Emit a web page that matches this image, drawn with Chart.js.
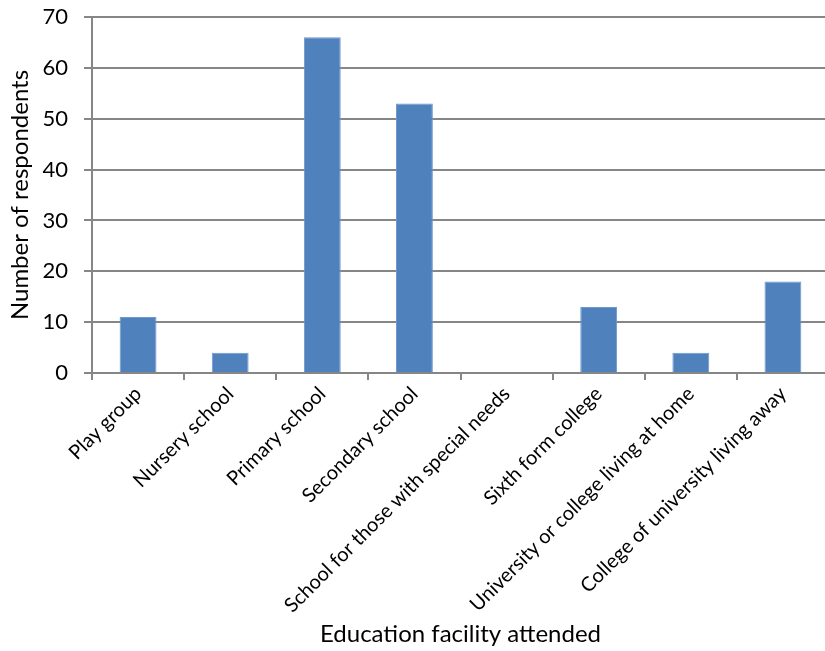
<!DOCTYPE html>
<html>
<head>
<meta charset="utf-8">
<script src="https://cdn.jsdelivr.net/npm/chart.js@4"></script>
<style>
  body { margin: 0; background: #fff; overflow: hidden; }
  #wrap { width: 829px; height: 651px; position: relative; }
</style>
</head>
<body>
<div id="wrap"><canvas id="main"></canvas></div>
<script>
const categories = [
    "Play group",
    "Nursery school",
    "Primary school",
    "Secondary school",
    "School for those with special needs",
    "Sixth form college",
    "University or college living at home",
    "College of university living away"
];
const respondents = [11, 4, 66, 53, 0, 13, 4, 18];

const gridGrey = "#868686";
const font = "Lato, 'Liberation Sans', sans-serif";

const myChart = new Chart(document.getElementById('main'), {
    type: "bar",
    data: {
        labels: categories,
        datasets: [{
            label: "Respondents",
            data: respondents,
            backgroundColor: "#4F81BD",
            borderColor: "#6E97CB",
            borderWidth: 1,
            categoryPercentage: 1,
            barPercentage: 0.4
        }]
    },
    options: {
        responsive: true,
        maintainAspectRatio: false,
        animation: false,
        layout: { padding: { top: 17, left: 0, right: 0, bottom: 0 } },
        plugins: {
            legend: { display: false },
            tooltip: { enabled: false }
        },
        scales: {
            x: {
                afterFit: function (scale) { scale.height = 278; },
                grid: {
                    drawOnChartArea: false,
                    drawTicks: true,
                    tickLength: 7,
                    color: gridGrey,
                    lineWidth: 2
                },
                border: { color: gridGrey, width: 2 },
                ticks: {
                    color: "#000",
                    font: { family: font, size: 20 },
                    minRotation: 45,
                    maxRotation: 45,
                    autoSkip: false,
                    padding: 2
                },
                title: {
                    display: true,
                    text: "Education facility attended",
                    color: "#000",
                    font: { family: font, size: 24 },
                    padding: { top: 0, bottom: 2 }
                }
            },
            y: {
                afterFit: function (scale) {
                    scale.width = 92;
                    scale.paddingTop = 0;
                    scale.paddingBottom = 0;
                },
                min: 0,
                max: 70,
                grid: {
                    color: gridGrey,
                    lineWidth: 2,
                    tickLength: 8
                },
                border: { color: gridGrey, width: 2 },
                ticks: {
                    stepSize: 10,
                    color: "#000",
                    font: { family: font, size: 22 },
                    padding: 16
                },
                title: {
                    display: true,
                    text: "Number of respondents",
                    color: "#000",
                    font: { family: font, size: 24 },
                    padding: { top: 6, bottom: 0 }
                }
            }
        }
    }
});
console.log("Loaded!");
</script>
</body>
</html>
